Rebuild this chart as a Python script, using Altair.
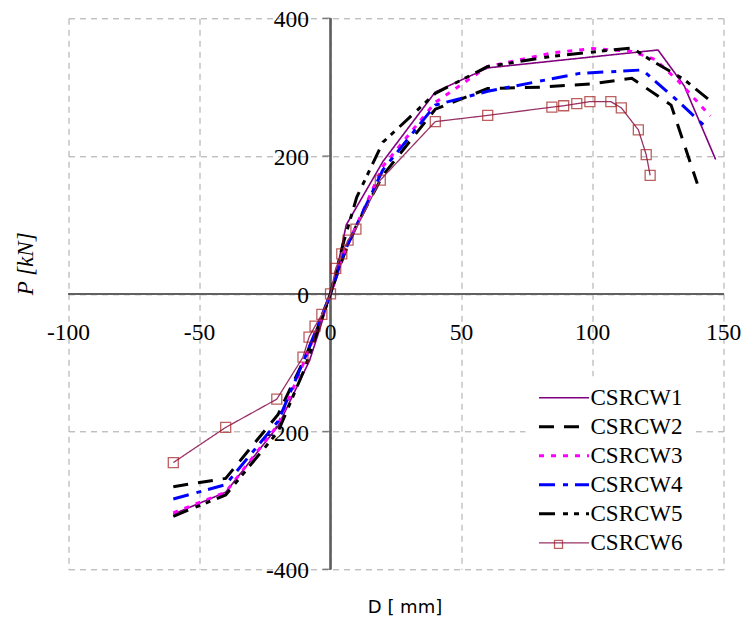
import altair as alt
import pandas as pd

series_names = ["CSRCW1", "CSRCW2", "CSRCW3", "CSRCW4", "CSRCW5", "CSRCW6"]
series_colors = ["#800080", "#000000", "#ff00ff", "#0000ff", "#000000", "#993366"]
series_dashes = [[1, 0], [15, 10], [5, 7], [16, 8, 5, 7], [16, 8, 5, 6, 5, 7], [1, 0]]
series_widths = [1.6, 3, 3, 3, 3, 1.3]

w1_x = [-60, -40, -20, -8, -4, 0, 3, 6, 20, 40, 60, 125, 135, 147]
w1_y = [-320, -288, -192, -97, -50, 0, 45, 100, 192, 293, 328, 354, 302, 195]

w2_x = [-60, -40, -20, -10, -5, 0, 5, 10, 20, 40, 60, 80, 100, 115, 130, 140]
w2_y = [-280, -268, -175, -95, -50, 0, 55, 100, 172, 268, 298, 300, 305, 313, 274, 160]

w3_x = [-60, -40, -20, -10, -5, 0, 5, 10, 20, 40, 60, 85, 100, 115, 124, 133, 145]
w3_y = [-318, -288, -190, -98, -50, 0, 58, 100, 185, 278, 330, 350, 356, 352, 340, 308, 258]

w4_x = [-60, -40, -20, -10, -5, 0, 5, 10, 20, 40, 60, 95, 119, 132, 143]
w4_y = [-298, -277, -185, -95, -48, 0, 58, 100, 180, 274, 294, 320, 325, 282, 243]

w5_x = [-60, -40, -20, -10, -5, 0, 5, 10, 20, 40, 60, 85, 115, 122, 135, 145]
w5_y = [-323, -292, -200, -110, -55, 0, 75, 140, 220, 291, 330, 345, 357, 340, 311, 280]

w6_x = [-60, -40, -20.5, -10.5, -8.2, -5.9, -3.3, 0, 2, 4.3, 6.7, 9.7, 19, 40, 60, 84.5, 89, 94, 99, 107, 111, 117.5, 120.5, 122]
w6_y = [-245, -194, -153, -92, -63, -47, -30, 0, 37, 58, 78, 94, 165, 250, 259, 271, 273, 276, 279, 279, 270, 238, 202, 172]

x_ticks = [-100, -50, 0, 50, 100, 150]
y_ticks = [-400, -200, 0, 200, 400]

all_x = [w1_x, w2_x, w3_x, w4_x, w5_x, w6_x]
all_y = [w1_y, w2_y, w3_y, w4_y, w5_y, w6_y]

rows = []
for name, xs, ys in zip(series_names, all_x, all_y):
    for i, (a, b) in enumerate(zip(xs, ys)):
        rows.append({"series": name, "marker": name, "D": a, "P": b, "order": i})
df = pd.DataFrame(rows)

xt = pd.DataFrame({"v": x_ticks, "lab": [str(v) for v in x_ticks]})
yt = pd.DataFrame({"v": y_ticks, "lab": [str(v) for v in y_ticks]})

FONT = "Liberation Serif"

x_scale = alt.Scale(domain=[-100, 150], nice=False, zero=False)
y_scale = alt.Scale(domain=[-400, 400], nice=False, zero=False)

x_axis = alt.Axis(values=x_ticks, labels=False, ticks=False, domain=False,
                  grid=True, gridDash=[6, 5], gridColor="#a6a6a6", gridWidth=1,
                  title="D [ mm]", titleFont="DejaVu Sans", titleFontSize=18,
                  titleFontWeight="normal", titleColor="#000000",
                  titleX=336, titleY=38, titleAlign="center", titleBaseline="middle")
y_axis = alt.Axis(values=y_ticks, labels=False, ticks=False, domain=False,
                  grid=True, gridDash=[6, 5], gridColor="#a6a6a6", gridWidth=1,
                  title="P [kN]", titleFont=FONT, titleFontSize=23, titleFontStyle="italic",
                  titleFontWeight="normal", titleColor="#000000", titleAngle=-90,
                  titleX=-43, titleY=245, titleAlign="center", titleBaseline="middle")

line_path = "M-1.6,0H8.4"

legend = alt.Legend(
    title=None, orient="none", legendX=457, legendY=358,
    padding=10, fillColor="#ffffff", rowPadding=5,
    symbolSize=100, symbolType=line_path, labelOffset=32,
    symbolFillColor="transparent",
    labelFont=FONT, labelFontSize=23, labelColor="#000000", labelLimit=200,
)

marker_legend = alt.Legend(
    title=None, orient="none", legendX=485, legendY=521, padding=0,
    symbolSize=64, symbolStrokeWidth=1.3, symbolStrokeColor="#a01c1c",
    symbolFillColor="transparent", labelFontSize=8, labelExpr="''",
)

base = alt.Chart(df)

lines = base.mark_line(clip=True).encode(
    x=alt.X("D:Q", scale=x_scale, axis=x_axis),
    y=alt.Y("P:Q", scale=y_scale, axis=y_axis),
    color=alt.Color("series:N", scale=alt.Scale(domain=series_names, range=series_colors), legend=legend),
    strokeDash=alt.StrokeDash("series:N", scale=alt.Scale(domain=series_names, range=series_dashes), legend=legend),
    strokeWidth=alt.StrokeWidth("series:N", scale=alt.Scale(type="ordinal", domain=series_names, range=series_widths), legend=legend),
    order="order:Q",
)

points = base.transform_filter(alt.datum.series == "CSRCW6").mark_point(
    filled=False, size=100, color="#a01c1c", strokeWidth=1.3
).encode(
    x="D:Q", y="P:Q",
    shape=alt.Shape("marker:N", scale=alt.Scale(domain=["CSRCW6"], range=["square"]), legend=marker_legend),
)

zero_h = alt.Chart(xt).mark_rule(color="#606060", strokeWidth=1.5).encode(y=alt.datum(0))
zero_v = alt.Chart(xt).mark_rule(color="#606060", strokeWidth=1.5).encode(x=alt.datum(0))

y_tick_marks = alt.Chart(yt).mark_tick(orient="horizontal", size=8, thickness=1.5,
                                        color="#606060", xOffset=-4).encode(
    x=alt.datum(0), y=alt.Y("v:Q"))

x_labels = alt.Chart(xt).mark_text(font=FONT, fontSize=23.5, color="#000000",
                                   baseline="middle", align="center", dy=39).encode(
    x=alt.X("v:Q"), y=alt.datum(0), text="lab:N")
y_labels = alt.Chart(yt).mark_text(font=FONT, fontSize=23.5, color="#000000",
                                   baseline="middle", align="right", dx=-21.5, dy=2).encode(
    x=alt.datum(0), y=alt.Y("v:Q"), text="lab:N")

chart = alt.layer(zero_h, zero_v, y_tick_marks, x_labels, y_labels, lines, points).properties(
    width=655, height=551,
    autosize=alt.AutoSizeParams(type="none"),
    padding={"left": 68.5, "top": 18.3, "right": 18.5, "bottom": 52.7},
    background="#ffffff",
).configure_view(stroke=None)

chart.save("out.html", embed_options={"renderer": "svg", "actions": False})
